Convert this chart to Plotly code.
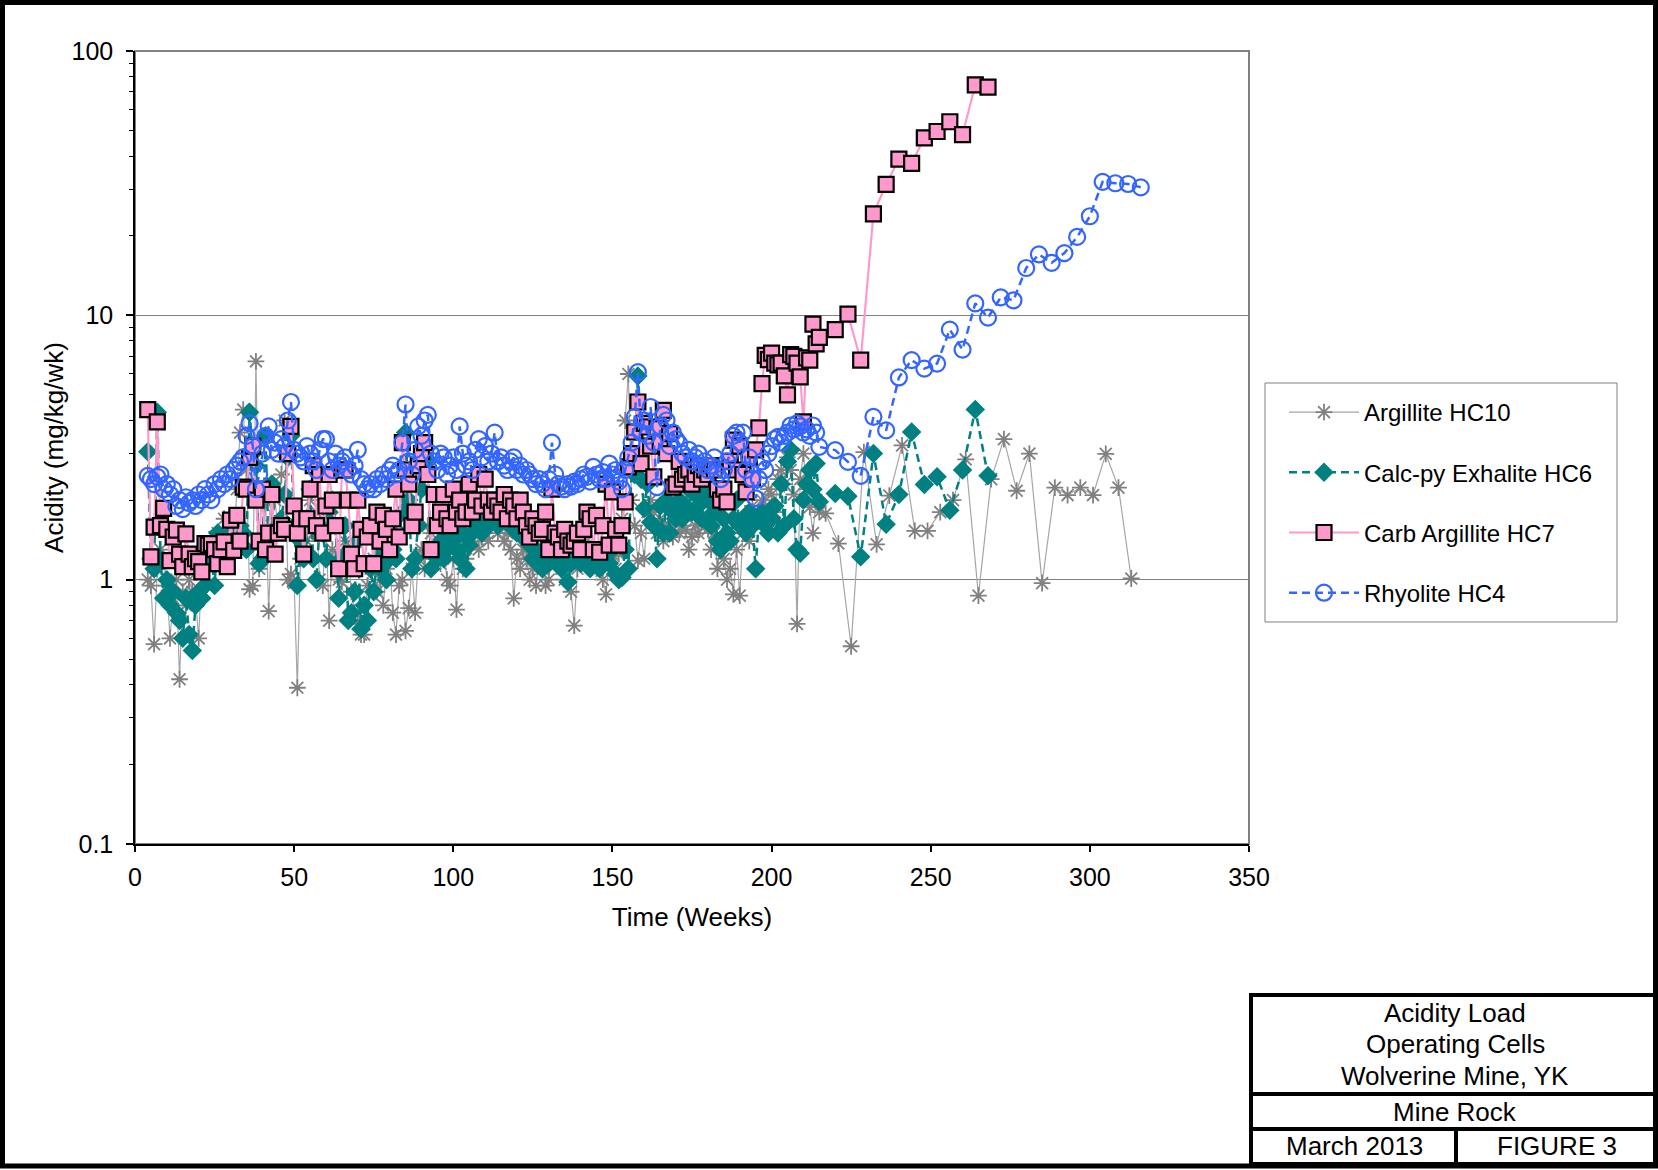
import plotly.graph_objects as go

# ---- Weekly sampling period shared by all cells, then 4-weekly readings ----
weeks_weekly = list(range(4, 216))

# Argillite HC10 (mg/kg/wk)
hc10_weekly = [
    1.0, 0.95, 0.57, 1.1, 1.3, 1.2, 0.95, 0.6, 0.85, 1.0,
    0.42, 0.9, 0.8, 1.0, 0.9, 0.85, 0.6, 1.1, 1.3, 1.2,
    1.35, 1.45, 1.5, 1.3, 1.7, 1.2, 1.6, 1.3, 2.2, 3.6,
    4.4, 2.6, 0.92, 0.95, 6.7, 1.1, 1.3, 2.0, 0.76, 1.6,
    2.0, 1.5, 2.5, 4.0, 1.0, 1.05, 0.97, 0.39, 1.2, 1.5,
    1.4, 2.0, 1.5, 1.8, 1.0, 0.95, 1.6, 0.7, 1.3, 1.2,
    1.0, 0.98, 1.4, 1.3, 0.9, 0.75, 0.68, 0.62, 0.62, 0.95,
    1.1, 1.2, 0.9, 1.0, 0.8, 1.1, 1.2, 0.75, 0.62, 0.95,
    1.0, 0.64, 0.78, 1.1, 0.75, 1.2, 1.3, 1.1, 1.6, 1.5,
    1.2, 1.3, 1.15, 1.35, 1.0, 0.95, 1.2, 0.77, 1.3, 1.1,
    1.2, 1.5, 1.4, 1.6, 1.3, 1.45, 1.5, 1.4, 1.6, 1.7,
    1.5, 1.6, 1.4, 1.5, 1.3, 0.85, 1.2, 1.1, 1.3, 1.2,
    1.0, 1.1, 0.95, 1.2, 1.1, 0.95, 1.0, 1.3, 1.25, 1.2,
    1.1, 1.0, 1.2, 0.9, 0.67, 1.1, 1.2, 1.3, 1.4, 1.25,
    1.15, 1.1, 1.3, 1.0, 0.88, 1.2, 1.3, 1.1, 1.25, 1.7,
    4.0, 6.0, 2.0, 1.6, 1.18, 1.5, 1.2, 1.8, 2.0, 1.8,
    1.5, 1.7, 1.4, 1.55, 1.6, 1.45, 1.7, 1.5, 1.6, 1.55,
    1.3, 1.45, 1.6, 1.5, 1.75, 1.6, 1.55, 1.3, 1.5, 1.1,
    1.4, 1.2, 1.0, 1.1, 0.88, 1.3, 0.87, 1.5, 1.6, 1.4,
    1.9, 1.7, 1.8, 2.0, 1.9, 2.2, 2.1, 1.8, 2.4, 2.6,
    2.3, 2.9, 2.6, 2.1, 0.68, 2.4, 3.0, 2.2, 1.88, 1.5,
    2.0, 1.8,
]
hc10_later_weeks = [217, 221, 225, 229, 233, 237, 241, 245, 249, 253, 257, 261,
                    265, 269, 273, 277, 281, 285, 289, 293, 297, 301, 305, 309, 313]
hc10_later = [1.78, 1.37, 0.56, 3.04, 1.36, 2.08, 3.22, 1.53, 1.53, 1.8, 2.0, 2.85,
              0.87, 2.4, 3.4, 2.17, 3.0, 0.97, 2.23, 2.09, 2.23, 2.09, 2.99, 2.23, 1.01]

# Calc-py Exhalite HC6
hc6_weekly = [
    3.05, 1.2, 1.1, 4.3, 1.2, 0.85, 1.0, 0.8, 0.9, 0.75,
    0.7, 0.6, 0.85, 0.62, 0.54, 0.8, 0.9, 0.85, 0.95, 1.3,
    1.2, 0.95, 1.5, 1.3, 1.2, 1.4, 1.5, 1.3, 1.45, 1.6,
    1.5, 1.3, 4.3, 3.0, 2.7, 1.15, 1.2, 3.5, 1.3, 2.3,
    1.5, 1.6, 1.7, 2.1, 2.9, 3.5, 1.6, 0.95, 1.4, 1.2,
    1.7, 2.2, 1.2, 1.0, 1.6, 1.5, 1.2, 1.8, 2.0, 1.6,
    0.85, 1.2, 1.6, 0.7, 0.75, 0.9, 1.4, 0.65, 0.8, 0.7,
    1.1, 0.9, 1.2, 1.1, 1.3, 1.0, 1.2, 1.3, 1.2, 1.5,
    1.8, 3.6, 2.0, 1.1, 1.2, 1.6, 2.2, 2.5, 2.8, 1.1,
    1.3, 1.2, 1.4, 1.2, 1.3, 1.5, 1.4, 1.3, 1.2, 1.5,
    1.1, 1.35, 1.5, 1.6, 1.55, 1.5, 1.7, 1.6, 1.8, 1.7,
    1.6, 1.75, 1.7, 1.8, 1.6, 1.7, 1.5, 1.7, 1.6, 1.4,
    1.35, 1.2, 1.3, 1.2, 1.1, 1.3, 1.15, 1.25, 1.2, 1.3,
    1.1, 1.2, 0.98, 1.15, 1.2, 1.3, 1.15, 1.2, 1.25, 1.1,
    1.2, 1.15, 1.1, 1.2, 1.25, 1.15, 1.3, 1.05, 1.0, 1.02,
    1.3, 1.1, 2.6, 2.5, 5.9, 2.4, 1.86, 2.3, 1.65, 1.6,
    1.2, 1.9, 1.5, 2.0, 1.5, 1.8, 1.7, 2.0, 1.7, 1.9,
    2.2, 1.8, 2.1, 1.9, 1.7, 2.2, 2.0, 1.6, 1.8, 1.4,
    1.3, 1.7, 1.5, 1.4, 1.7, 2.0, 1.6, 1.7, 1.5, 1.8,
    1.6, 1.1, 1.7, 1.8, 1.6, 1.5, 1.7, 1.9, 1.5, 2.3,
    1.6, 2.8, 3.1, 1.7, 1.3, 1.26, 2.0, 2.3, 2.6, 2.2,
    2.75, 1.97,
]
hc6_later_weeks = [220, 224, 228, 232, 236, 240, 244, 248, 252, 256, 260, 264, 268]
hc6_later = [2.12, 2.07, 1.22, 3.0, 1.62, 2.1, 3.62, 2.29, 2.45, 1.83, 2.6, 4.4, 2.47]

# Carb Argillite HC7
hc7_weekly = [
    4.4, 1.22, 1.58, 3.95, 1.6, 1.86, 1.55, 1.18, 1.45, 1.54,
    1.25, 1.12, 1.49, 1.25, 1.12, 1.2, 1.17, 1.07, 1.37, 1.35,
    1.37, 1.3, 1.15, 1.3, 1.39, 1.12, 1.68, 1.29, 1.75, 1.4,
    2.24, 2.2, 2.9, 3.2, 2.0, 1.4, 2.2, 1.3, 1.5, 2.1,
    1.25, 1.5, 1.6, 1.55, 3.0, 3.8, 1.9, 1.5, 1.7, 1.25,
    1.7, 2.2, 2.7, 1.6, 2.5, 1.5, 1.9, 2.5, 2.0, 1.6,
    1.1, 2.6, 2.6, 2.0, 1.25, 1.1, 2.0, 1.55, 1.15, 1.45,
    1.6, 1.15, 1.8, 1.4, 1.75, 1.55, 1.3, 1.7, 2.2, 1.45,
    3.3, 2.6, 2.3, 1.6, 1.8, 2.7, 3.0, 3.3, 2.5, 1.3,
    2.1, 1.6, 1.8, 2.1, 1.7, 1.6, 2.2, 1.8, 2.0, 1.7,
    1.8, 2.3, 1.8, 2.0, 2.5, 1.9, 2.4, 2.0, 1.8, 2.0,
    1.9, 1.8, 2.1, 1.7, 2.0, 1.9, 1.7, 2.0, 1.8, 1.6,
    1.45, 1.7, 1.6, 1.5, 1.55, 1.8, 1.3, 2.2, 1.5, 1.45,
    1.3, 1.55, 1.4, 1.35, 1.4, 1.5, 1.3, 1.55, 1.8, 1.7,
    1.3, 1.75, 1.27, 1.6, 2.3, 1.35, 2.15, 1.55, 1.35, 1.6,
    1.97, 2.67, 3.0, 3.62, 4.7, 2.75, 3.9, 3.78, 3.2, 2.45,
    3.73, 3.3, 4.37, 3.0, 3.57, 2.24, 2.3, 2.8, 2.4, 2.5,
    2.6, 2.3, 2.5, 2.7, 2.4, 2.6, 2.5, 2.7, 2.6, 2.2,
    2.0, 2.2, 1.97, 2.8, 3.37, 2.6, 3.2, 2.5, 2.15, 2.9,
    2.4, 3.1, 3.75, 5.52, 7.06, 6.8, 7.2, 6.6, 6.5, 6.6,
    5.9, 5.0, 7.1, 7.0, 6.6, 5.85, 3.95, 6.9, 6.77, 9.26,
    7.8, 8.26,
]
hc7_later_weeks = [220, 224, 228, 232, 236, 240, 244, 248, 252, 256, 260, 264, 268]
hc7_later = [8.83, 10.1, 6.77, 24.2, 31.3, 39.0, 37.6, 46.9, 49.6, 54.0, 48.3, 74.5, 73.0]

# Rhyolite HC4
hc4_weekly = [
    2.47, 2.4, 2.3, 2.45, 2.5, 2.2, 2.3, 2.1, 2.2, 1.9,
    2.0, 1.85, 2.05, 1.95, 2.0, 1.9, 2.1, 2.0, 2.2, 2.1,
    2.0, 2.3, 2.2, 2.4, 2.3, 2.5, 2.4, 2.6, 2.7, 2.8,
    2.9, 3.5, 3.9, 3.2, 2.2, 2.5, 3.0, 3.5, 3.8, 3.1,
    3.3, 3.0, 3.4, 3.2, 4.0, 4.7, 3.1, 3.0, 2.9, 2.8,
    3.2, 3.0, 2.8, 2.6, 3.1, 3.4, 3.4, 2.8, 2.6, 3.0,
    2.7, 2.8, 2.9, 2.6, 2.5, 2.7, 3.1, 2.4, 2.3, 2.2,
    2.3, 2.2, 2.4, 2.3, 2.5, 2.4, 2.6, 2.7, 2.5, 2.6,
    3.3, 4.6, 2.8, 2.5, 3.1, 3.8, 3.5, 4.0, 4.2, 3.0,
    2.8, 2.6, 3.0, 2.9, 2.5, 2.7, 2.9, 2.6, 3.8, 3.0,
    2.7, 2.8, 2.6, 3.1, 3.4, 2.9, 3.2, 2.8, 3.0, 3.6,
    2.8, 2.9, 2.7, 2.6, 2.8, 2.9, 2.6, 2.7, 2.5, 2.6,
    2.5, 2.4, 2.3, 2.4, 2.3, 2.2, 2.4, 3.3, 2.5, 2.3,
    2.25, 2.2, 2.3, 2.25, 2.35, 2.3, 2.4, 2.5, 2.45, 2.35,
    2.67, 2.5, 2.4, 2.55, 2.4, 2.75, 2.5, 2.6, 2.35, 2.2,
    2.6, 2.9, 3.3, 4.13, 6.1, 3.6, 4.0, 3.5, 4.5, 3.3,
    2.24, 3.8, 4.2, 4.0, 3.2, 3.6, 3.4, 3.27, 3.0, 2.9,
    3.1, 2.8, 2.9, 3.0, 2.7, 2.8, 2.6, 2.7, 2.9, 2.5,
    2.4, 2.6, 2.8, 3.0, 3.5, 3.6, 3.3, 3.6, 2.6, 2.9,
    2.4, 2.03, 2.4, 2.8, 2.6, 3.0, 3.2, 3.4, 3.47, 3.3,
    3.5, 3.6, 3.83, 3.7, 3.9, 3.8, 3.6, 3.7, 3.5, 3.83,
    3.6, 3.18,
]
hc4_later_weeks = [220, 224, 228, 232, 236, 240, 244, 248, 252, 256, 260, 264, 268,
                   272, 276, 280, 284, 288, 292, 296, 300, 304, 308, 312, 316]
hc4_later = [3.09, 2.79, 2.47, 4.13, 3.67, 5.82, 6.77, 6.29, 6.57, 8.83, 7.42, 11.1, 9.8,
             11.7, 11.4, 15.1, 17.0, 15.8, 17.2, 19.8, 23.7, 32.0, 31.6, 31.4, 30.5]

series_names = ["Argillite HC10", "Calc-py Exhalite HC6", "Carb Argillite HC7", "Rhyolite HC4"]

x_ticks = [0, 50, 100, 150, 200, 250, 300, 350]
y_ticks = [0.1, 1, 10, 100]
y_tick_labels = ["0.1", "1", "10", "100"]

block_lines = ["Acidity Load", "Operating Cells", "Wolverine Mine, YK"]
block_subject = "Mine Rock"
block_date = "March 2013"
block_figure = "FIGURE 3"

FONT = "Liberation Sans, Arial, sans-serif"
W, H = 1658, 1170
ML, MR, MT, MB = 135, 409, 51, 326
PW, PH = W - ML - MR, H - MT - MB


def px(x):
    return (x - ML) / PW


def py(y):
    return (H - MB - y) / PH


for weekly in (hc10_weekly, hc6_weekly, hc7_weekly, hc4_weekly):
    assert len(weekly) == len(weeks_weekly)

fig = go.Figure()

fig.add_trace(go.Scatter(
    x=weeks_weekly + hc10_later_weeks, y=hc10_weekly + hc10_later,
    name=series_names[0], legendgroup="a", mode="lines+markers",
    line=dict(color="#A6A6A6", width=1.2),
    marker=dict(symbol="asterisk-open", size=14, color="#808080",
                line=dict(color="#808080", width=1.8)),
))
fig.add_trace(go.Scatter(
    x=weeks_weekly + hc6_later_weeks, y=hc6_weekly + hc6_later,
    name=series_names[1], legendgroup="b", mode="lines+markers",
    line=dict(color="#008080", width=2.5, dash="8px,5px"),
    marker=dict(symbol="diamond", size=15, color="#008080"),
))
fig.add_trace(go.Scatter(
    x=weeks_weekly + hc7_later_weeks, y=hc7_weekly + hc7_later,
    name=series_names[2], legendgroup="c", mode="lines+markers",
    line=dict(color="#FF99CC", width=2.2),
    marker=dict(symbol="square", size=15, color="#FF99CC",
                line=dict(color="#000000", width=2.2)),
))
fig.add_trace(go.Scatter(
    x=weeks_weekly + hc4_later_weeks, y=hc4_weekly + hc4_later,
    name=series_names[3], legendgroup="d", mode="lines+markers",
    line=dict(color="#3366FF", width=2.5, dash="8px,5px"),
    marker=dict(symbol="circle-open", size=16, color="#3366FF",
                line=dict(color="#3366FF", width=2.2)),
))

minor_vals = [m * 10 ** e for e in (-1, 0, 1) for m in range(2, 10)]

fig.update_xaxes(
    range=[0, 350], tickvals=x_ticks, showgrid=False, zeroline=False,
    showline=True, linecolor="#000000", linewidth=1.5,
    ticks="outside", ticklen=6, tickwidth=1.5, tickcolor="#000000",
    ticklabelstandoff=4,
    tickfont=dict(family=FONT, size=25, color="#000000"),
    title=dict(text="Time (Weeks)", font=dict(family=FONT, size=26, color="#000000"), standoff=18),
)
fig.update_yaxes(
    type="log", range=[-1, 2], tickvals=y_ticks, ticktext=y_tick_labels,
    showgrid=True, gridcolor="#808080", gridwidth=1, zeroline=False,
    showline=True, linecolor="#000000", linewidth=1.5,
    ticks="outside", ticklen=7, tickwidth=1.5, tickcolor="#000000",
    ticklabelstandoff=8,
    minor=dict(tickvals=minor_vals, ticks="outside", ticklen=4, tickwidth=1,
               tickcolor="#000000", showgrid=False),
    tickfont=dict(family=FONT, size=25, color="#000000"),
    title=dict(text="Acidity (mg/kg/wk)", font=dict(family=FONT, size=26, color="#000000"), standoff=0),
)

line_k = dict(color="#000000", width=4)
shapes = [
    # plot-area frame (top/right in grey)
    dict(type="rect", xref="paper", yref="paper", x0=0, y0=0, x1=1, y1=1,
         line=dict(color="#808080", width=2), layer="below"),
    # legend frame
    dict(type="rect", xref="paper", yref="paper", x0=px(1265), y0=py(622), x1=px(1617), y1=py(383),
         line=dict(color="#808080", width=1)),
    # page border
    dict(type="rect", xref="paper", yref="paper", x0=px(2.5), y0=py(1166), x1=px(1655.5), y1=py(2.5),
         line=dict(color="#000000", width=5)),
    # title block
    dict(type="line", xref="paper", yref="paper", x0=px(1249), y0=py(995), x1=px(1658), y1=py(995), line=line_k),
    dict(type="line", xref="paper", yref="paper", x0=px(1251), y0=py(993), x1=px(1251), y1=py(1168), line=line_k),
    dict(type="line", xref="paper", yref="paper", x0=px(1249), y0=py(1094), x1=px(1658), y1=py(1094), line=line_k),
    dict(type="line", xref="paper", yref="paper", x0=px(1249), y0=py(1129), x1=px(1658), y1=py(1129), line=line_k),
    dict(type="line", xref="paper", yref="paper", x0=px(1456), y0=py(1129), x1=px(1456), y1=py(1168), line=line_k),
    dict(type="line", xref="paper", yref="paper", x0=px(1249), y0=py(1164), x1=px(1658), y1=py(1164), line=line_k),
]

tfont = dict(family=FONT, size=26, color="#000000")
annotations = []
for text, yc in zip(block_lines, [1013, 1044, 1076]):
    annotations.append(dict(text=text, xref="paper", yref="paper", x=px(1455), y=py(yc),
                            xanchor="center", yanchor="middle", showarrow=False, font=tfont))
annotations.append(dict(text=block_subject, xref="paper", yref="paper", x=px(1455), y=py(1112),
                        xanchor="center", yanchor="middle", showarrow=False, font=tfont))
annotations.append(dict(text=block_date, xref="paper", yref="paper", x=px(1354), y=py(1146),
                        xanchor="center", yanchor="middle", showarrow=False, font=tfont))
annotations.append(dict(text=block_figure, xref="paper", yref="paper", x=px(1557), y=py(1146),
                        xanchor="center", yanchor="middle", showarrow=False, font=tfont))

fig.update_layout(
    width=W, height=H,
    margin=dict(l=ML, r=MR, t=MT, b=MB, autoexpand=False),
    paper_bgcolor="#FFFFFF", plot_bgcolor="#FFFFFF",
    font=dict(family=FONT, color="#000000"),
    showlegend=True,
    legend=dict(x=px(1284), y=py(390), xanchor="left", yanchor="top",
                bgcolor="rgba(0,0,0,0)", borderwidth=0,
                font=dict(family=FONT, size=24, color="#000000"),
                itemwidth=70, tracegroupgap=26, traceorder="grouped"),
    shapes=shapes,
    annotations=annotations,
)

fig.write_html("out.html")
